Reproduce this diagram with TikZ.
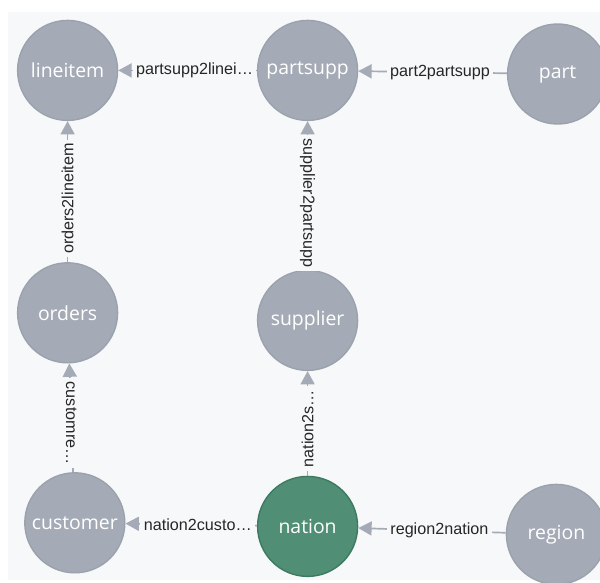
\documentclass[tikz,border=0pt]{standalone}
\usepackage{fontspec}
\setmainfont{Liberation Sans}
\newfontfamily\nodefont{Open Sans}
\usepackage{tikz}
\usetikzlibrary{arrows.meta, positioning}
\definecolor{nodegray}{RGB}{165,171,182}
\definecolor{nodeedge}{RGB}{155,162,173}
\definecolor{nodegreen}{RGB}{80,142,117}
\definecolor{greenedge}{RGB}{62,122,98}
\definecolor{canvas}{RGB}{247,248,250}
\tikzstyle{entity} = [circle, minimum size=2.5cm, inner sep=0pt, draw=nodeedge, line width=1pt, fill=nodegray, text=white, font=\nodefont\fontsize{13.8}{16}\selectfont]
\tikzstyle{highlight} = [fill=nodegreen, draw=greenedge]
\tikzstyle{rel} = [draw=nodegray, line width=1.2pt, -{Triangle[length=9.5pt, width=10pt]}]
\tikzstyle{lbl} = [fill=canvas, inner sep=2.5pt, text=black!85, font=\fontsize{11.5}{13}\selectfont, pos=0.45]

\begin{document}
\begin{tikzpicture}[node distance=6cm]

% Canvas
\useasboundingbox (0,0) rectangle (15,-14.575);
\fill [canvas] (0.2,-0.3) rectangle (15,-14.5);

% Tables
\node (lineitem) [entity] at (1.69,-1.76) {lineitem};
\node (partsupp) [entity, right of=lineitem] {partsupp};
\node (part) [entity, right of=partsupp, xshift=0.25cm, yshift=-0.09cm] {part};
\node (orders) [entity, below of=lineitem, yshift=-0.06cm] {orders};
\node (supplier) [entity, below of=partsupp, yshift=-0.25cm] {supplier};
\node (customer) [entity, below of=orders, xshift=0.18cm, yshift=0.75cm] {customer};
\node (nation) [entity, highlight, below of=supplier, yshift=0.85cm] {nation};
\node (region) [entity, right of=nation, xshift=0.22cm, yshift=-0.2cm] {region};

% Relationships
\draw [rel] (partsupp) -- node[lbl] {partsupp2linei…} (lineitem);
\draw [rel] (part) -- node[lbl] {part2partsupp} (partsupp);
\draw [rel] (orders) -- node[lbl, rotate=90] {orders2lineitem} (lineitem);
\draw [rel] (supplier) -- node[lbl, rotate=-90] {supplier2partsupp} (partsupp);
\draw [rel] (customer) -- node[lbl, rotate=-90] {customre…} (orders);
\draw [rel] (nation) -- node[lbl, rotate=90] {nation2s…} (supplier);
\draw [rel] (nation) -- node[lbl] {nation2custo…} (customer);
\draw [rel] (region) -- node[lbl] {region2nation} (nation);

\end{tikzpicture}
\end{document}
